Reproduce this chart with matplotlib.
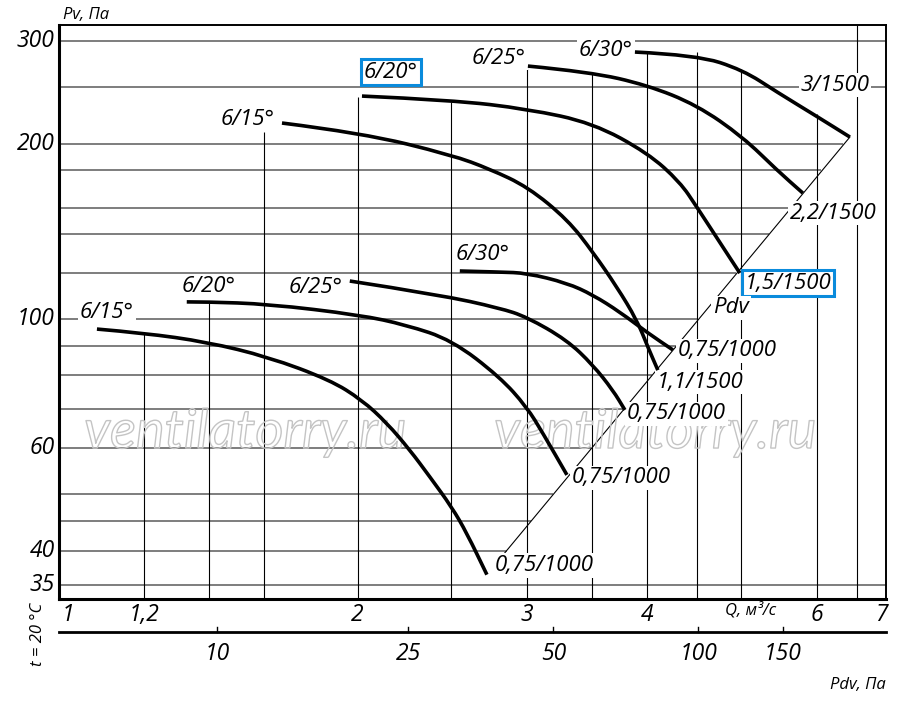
import numpy as np
import matplotlib.pyplot as plt
import matplotlib.patheffects as pe
from matplotlib.path import Path
from matplotlib.patches import PathPatch
from matplotlib.ticker import NullLocator
from matplotlib.transforms import ScaledTranslation

plt.rcParams['font.family'] = ['Open Sans', 'DejaVu Sans']
plt.rcParams['font.style'] = 'italic'

# Q, m3/s  vs  Pv, Pa
# 1500 rpm family
q_1500_15 = [1.669, 2.021, 2.506, 2.744, 3.006, 3.308, 3.511, 3.719, 3.901, 4.005, 4.102]
p_1500_15 = [217.0, 208.6, 191.2, 180.9, 168.5, 147.9, 130.3, 113.5, 99.6, 89.5, 81.7]
q_1500_20 = [2.021, 2.506, 3.006, 3.511, 4.005, 4.324, 4.503, 4.792, 4.991]
p_1500_20 = [241.4, 237.6, 229.3, 217.0, 192.7, 171.9, 155.7, 132.9, 119.9]
q_1500_25 = [3.006, 3.486, 3.996, 4.503, 5.027, 5.453, 5.803]
p_1500_25 = [271.8, 265.5, 252.2, 233.0, 205.3, 180.2, 164.5]
q_1500_30 = [3.883, 4.503, 5.027, 5.453, 6.015, 6.494]
p_1500_30 = [287.3, 283.9, 267.6, 245.3, 222.2, 205.3]
# 1000 rpm family
q_1000_15 = [1.072, 1.199, 1.395, 1.614, 1.872, 2.021, 2.145, 2.266, 2.377, 2.506, 2.597, 2.725]
p_1000_15 = [96.1, 94.6, 91.3, 86.1, 78.6, 72.6, 66.3, 59.6, 53.6, 47.5, 42.9, 36.4]
q_1000_20 = [1.329, 1.395, 1.614, 2.011, 2.245, 2.506, 2.811, 2.998, 3.115, 3.300]
p_1000_20 = [107.0, 107.0, 106.1, 101.6, 97.7, 92.0, 79.5, 70.6, 63.7, 54.0]
q_1000_25 = [1.963, 2.435, 2.811, 2.998, 3.300, 3.511, 3.683, 3.791]
p_1000_25 = [116.2, 110.0, 104.4, 100.8, 92.0, 83.4, 75.5, 69.8]
q_1000_30 = [2.554, 2.811, 2.998, 3.300, 3.511, 3.746, 4.005, 4.252]
p_1000_30 = [120.9, 120.4, 119.9, 115.3, 110.0, 102.8, 94.6, 88.5]

start_labels = ['6/15°', '6/20°', '6/25°', '6/30°', '6/15°', '6/20°', '6/25°', '6/30°']
end_labels = ['1,1/1500', '1,5/1500', '2,2/1500', '3/1500',
              '0,75/1000', '0,75/1000', '0,75/1000', '0,75/1000']

# Pdv line ends
pdv_line_q = [2.845, 6.494]
pdv_line_p = [39.7, 205.3]
pdv_k = 4.9  # Pdv = k * Q^2

y_ticks = [35, 40, 60, 100, 200, 300]
x_ticks = [1, 1.2, 2, 3, 4, 6, 7]
x_tick_labels = ['1', '1,2', '2', '3', '4', '6', '7']
pdv_ticks = [10, 25, 50, 100, 150]

h_grid = [35, 40, 45, 50, 60, 70, 80, 90, 100, 120, 140, 155, 180, 200, 250, 300]
v_grid = [1.2, 1.4, 1.6, 2, 2.5, 3, 3.5, 4, 4.5, 5, 6, 6.6]
v_grid_top = [95.0, 106.5, 209.4, 240.5, 235.8, 271.8, 263.4, 287.3, 287.3, 268.6, 224.8, 320]

curves = [(q_1500_15, p_1500_15), (q_1500_20, p_1500_20),
          (q_1500_25, p_1500_25), (q_1500_30, p_1500_30),
          (q_1000_15, p_1000_15), (q_1000_20, p_1000_20),
          (q_1000_25, p_1000_25), (q_1000_30, p_1000_30)]

# label placement, pixel offsets from curve start / end
start_off = [(-7, 4, 'right'), (2, 24, 'left'), (-2, 8, 'right'), (-2, 2, 'right'),
             (-17, 17, 'left'), (-5, 15, 'left'), (-7, -6, 'right'), (-4, 16, 'left')]
end_off = [(-1, -12, 'left'), (5, -10, 'left'), (-13, -20, 'left'), (-15, 52, 'center'),
           (8, 9, 'left'), (5, -3, 'left'), (2, -4, 'left'), (5, -1, 'left')]
boxed_start = {1}
boxed_end = {1}

BLUE = '#0a8bdc'
FS = 16


def smooth_path(q, p):
    # quadratic b-spline through the read points, drawn in log-log display space
    lq, lp = np.log(q), np.log(p)
    verts = [(q[0], p[0])]
    codes = [Path.MOVETO]
    for i in range(1, len(q) - 1):
        mid = (np.exp((lq[i] + lq[i + 1]) / 2), np.exp((lp[i] + lp[i + 1]) / 2))
        verts += [(q[i], p[i]), mid]
        codes += [Path.CURVE3, Path.CURVE3]
    verts.append((q[-1], p[-1]))
    codes.append(Path.LINETO)
    return Path(verts, codes)


fig = plt.figure(figsize=(9, 7.04), dpi=100)
ax = fig.add_axes([59 / 900, 105 / 704, 827 / 900, 574 / 704])
ax.set_xscale('log')
ax.set_yscale('log')
xmin, xmax = 0.979, 7.08
ymin, ymax = 33.06, 319.7
ax.set_xlim(xmin, xmax)
ax.set_ylim(ymin, ymax)

# grid: horizontals stop at the Pdv line
for p in h_grid:
    q_end = xmax
    if pdv_line_p[0] <= p <= pdv_line_p[1]:
        q_end = np.sqrt(p / pdv_k)
    ax.hlines(p, xmin, q_end, color='#5a5a5a', lw=1.1, zorder=1)
for q, top in zip(v_grid, v_grid_top):
    ax.vlines(q, ymin, top, color='black', lw=0.8, zorder=1)

ax.plot(pdv_line_q, pdv_line_p, color='black', lw=0.8, zorder=2)

for q, p in curves:
    ax.add_patch(PathPatch(smooth_path(q, p), fill=False, ec='black', lw=2.6,
                           capstyle='butt', joinstyle='round', zorder=5))

white_box = dict(boxstyle='square,pad=0.08', fc='white', ec='none')
blue_box = dict(boxstyle='square,pad=0.12', fc='white', ec=BLUE, lw=2.2)

for i, (q, p) in enumerate(curves):
    dx, dy, ha = start_off[i]
    ax.annotate(start_labels[i], xy=(q[0], p[0]), xytext=(dx, dy),
                textcoords='offset pixels', ha=ha, va='center', fontsize=FS,
                bbox=blue_box if i in boxed_start else white_box, zorder=4)
    dx, dy, ha = end_off[i]
    ax.annotate(end_labels[i], xy=(q[-1], p[-1]), xytext=(dx, dy),
                textcoords='offset pixels', ha=ha, va='center', fontsize=FS,
                bbox=blue_box if i in boxed_end else white_box, zorder=4)

ax.text(0.791, 0.507, 'Pdv', transform=ax.transAxes, fontsize=FS,
        ha='left', va='center', bbox=white_box, zorder=4)

# watermark
for xf in (0.225, 0.7207):
    ax.text(xf, 0.263, 'ventilatorry.ru', transform=ax.transAxes, fontsize=39,
            family='Lato', ha='center', va='baseline', color='none', zorder=3,
            path_effects=[pe.withStroke(linewidth=1.0, foreground='#c4c4c4')])

# frame
for side, lw in (('left', 2.2), ('bottom', 2.2), ('top', 1.4), ('right', 1.4)):
    ax.spines[side].set_linewidth(lw)

ax.set_yticks(y_ticks, [str(v) for v in y_ticks])
ax.set_xticks(x_ticks, x_tick_labels)
ax.xaxis.set_minor_locator(NullLocator())
ax.yaxis.set_minor_locator(NullLocator())
ax.tick_params(axis='both', length=0, labelsize=16.5)
ax.tick_params(axis='y', pad=3)
ax.tick_params(axis='x', pad=3.2)
lift = ScaledTranslation(0, 3 / 100, fig.dpi_scale_trans)
for lbl in ax.get_yticklabels():
    lbl.set_transform(lbl.get_transform() + lift)

# Pdv scale under the Q axis
xt = ax.get_xaxis_transform()
y_axis2 = -0.0575
ax.plot([0, 1], [y_axis2, y_axis2], transform=ax.transAxes, color='black',
        lw=2.0, clip_on=False)
for v in pdv_ticks:
    q = np.sqrt(v / pdv_k)
    ax.plot([q, q], [y_axis2, y_axis2 + 0.009], transform=xt, color='black',
            lw=1.0, clip_on=False)
    ax.text(q, -0.096, str(v), transform=xt, ha='center', va='center', fontsize=16.5)

fig.text(63 / 900, 1 - 15 / 704, 'Pv, Па', fontsize=12, ha='left', va='center')
fig.text(886 / 900, 1 - 685 / 704, 'Pdv, Па', fontsize=12, ha='right', va='center')
fig.text(751 / 900, 1 - 610 / 704, 'Q, м³/с', fontsize=12, ha='center', va='center')
fig.text(38 / 900, 1 - 634 / 704, 't = 20 °C', fontsize=12, rotation=90,
         ha='center', va='center')

fig.savefig('out.png', dpi=100, facecolor='white')
